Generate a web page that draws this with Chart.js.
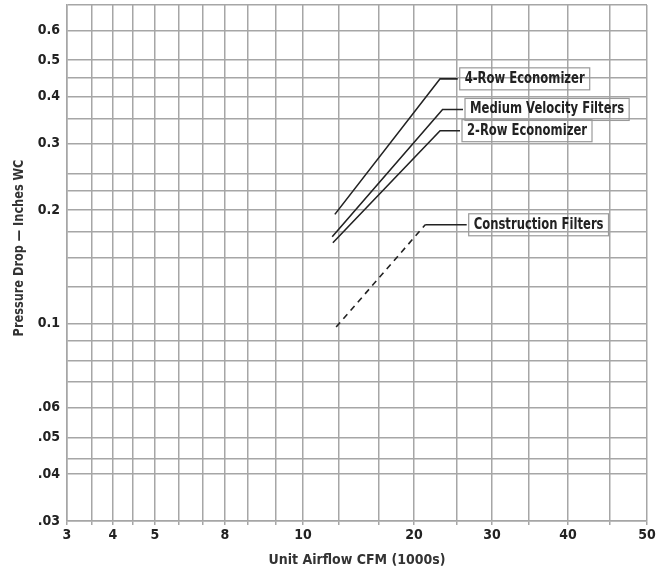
<!DOCTYPE html>
<html>
<head>
<meta charset="utf-8">
<script src="https://cdn.jsdelivr.net/npm/chart.js@4.4.0/dist/chart.umd.min.js"></script>
<style>
  html, body { margin: 0; padding: 0; background: #fff; }
  #wrap { width: 664px; height: 573px; position: relative; }
</style>
</head>
<body>
<div id="wrap"><canvas id="chart"></canvas></div>
<script>
// pressure drop curves
const seriesNames = ["4-Row Economizer", "Medium Velocity Filters", "2-Row Economizer", "Construction Filters"];
const cfmStart = [12.2, 12.0, 12.05, 12.3];
const cfmEnd = [22.9, 23.2, 22.9, 21.2];
const dropStart = [0.195, 0.170, 0.164, 0.098];
const dropEnd = [0.446, 0.370, 0.325, 0.183];
const calloutCfm = [25.1, 25.8, 25.4, 26.3];   // where the leader line meets the label box
const dashedSeries = [false, false, false, true];

// axis grid + labels
const xGrid = [3, 3.5, 4, 4.45, 5, 5.85, 6.9, 8, 8.55, 9.25, 10, 12.5, 16, 20, 25, 30, 34.5, 40, 45, 50];
const xTickValues = [3, 4, 5, 8, 10, 20, 30, 40, 50];
const xTickLabels = ["3", "4", "5", "8", "10", "20", "30", "40", "50"];
const yGrid = [0.03, 0.04, 0.044, 0.05, 0.06, 0.07, 0.08, 0.09, 0.1, 0.125, 0.15, 0.175, 0.2, 0.225, 0.25, 0.3, 0.35, 0.4, 0.45, 0.5, 0.6, 0.7];
const yTickValues = [0.03, 0.04, 0.05, 0.06, 0.1, 0.2, 0.3, 0.4, 0.5, 0.6];
const yTickLabels = [".03", ".04", ".05", ".06", "0.1", "0.2", "0.3", "0.4", "0.5", "0.6"];

const FONT = '"Liberation Sans Narrow", "DejaVu Sans Condensed", "Arial Narrow", sans-serif';
const GRID = "#a6a6a6";
const INK = "#222";

// the printed x axis is not a true log axis, so it gets a piecewise-log scale
// (anchor values and where they sit along the axis, 0..1)
const warpValues = [3, 4, 5, 8, 10, 20, 30, 40, 50];
const warpFrac = [0, 0.0793, 0.1517, 0.2724, 0.4069, 0.5983, 0.7328, 0.8638, 1];

function toFrac(v) {
  const n = warpValues.length;
  let i = 0;
  while (i < n - 2 && v > warpValues[i + 1]) i++;
  const a = Math.log(warpValues[i]), b = Math.log(warpValues[i + 1]);
  const t = (Math.log(v) - a) / (b - a);
  return warpFrac[i] + t * (warpFrac[i + 1] - warpFrac[i]);
}
function fromFrac(f) {
  const n = warpValues.length;
  let i = 0;
  while (i < n - 2 && f > warpFrac[i + 1]) i++;
  const t = (f - warpFrac[i]) / (warpFrac[i + 1] - warpFrac[i]);
  const a = Math.log(warpValues[i]), b = Math.log(warpValues[i + 1]);
  return Math.exp(a + t * (b - a));
}

class WarpScale extends Chart.LinearScale {
  getPixelForValue(value) {
    if (value === null || value === undefined || isNaN(value)) return NaN;
    return this.getPixelForDecimal(toFrac(value));
  }
  getValueForPixel(pixel) {
    return fromFrac(this.getDecimalForPixel(pixel));
  }
}
WarpScale.id = "warp";
WarpScale.defaults = Chart.LinearScale.defaults;
Chart.register(WarpScale);

function lookup(values, labels, v) {
  const i = values.findIndex(t => Math.abs(t - v) < 1e-9);
  return i >= 0 ? labels[i] : "";
}

const datasets = seriesNames.map((name, i) => ({
  label: name,
  data: [
    { x: cfmStart[i], y: dropStart[i] },
    { x: cfmEnd[i], y: dropEnd[i] },
    { x: calloutCfm[i], y: dropEnd[i] }
  ],
  borderColor: INK,
  borderWidth: 1.6,
  pointRadius: 0,
  fill: false,
  tension: 0,
  segment: dashedSeries[i] ? { borderDash: c => c.p0DataIndex === 0 ? [6, 5] : [] } : undefined
}));

// narrow bold text: squeeze a regular face sideways
function narrowText(ctx, text, x, y, size, squeeze) {
  ctx.save();
  ctx.translate(x, y);
  ctx.scale(squeeze, 1);
  ctx.font = "bold " + size + "px " + FONT;
  ctx.fillText(text, 0, 0);
  ctx.restore();
}

// label boxes at the end of each leader line
const calloutPlugin = {
  id: "callouts",
  afterDatasetsDraw(chart) {
    const ctx = chart.ctx;
    const squeeze = 0.86;
    ctx.save();
    ctx.font = "bold 15px " + FONT;
    ctx.textBaseline = "middle";
    chart.data.datasets.forEach((ds, i) => {
      const pts = chart.getDatasetMeta(i).data;
      const end = pts[pts.length - 1];
      const w = ctx.measureText(ds.label).width * squeeze + 10;
      const left = end.x + 2;
      ctx.strokeStyle = "#9a9a9a";
      ctx.lineWidth = 1.2;
      ctx.strokeRect(left, end.y - 11, w, 22);
      ctx.fillStyle = INK;
      narrowText(ctx, ds.label, left + 5, end.y, 15, squeeze);
    });
    ctx.restore();
  }
};

// y axis title sits a little above the middle in the original
const yTitlePlugin = {
  id: "yTitle",
  afterDraw(chart) {
    const ctx = chart.ctx;
    ctx.save();
    ctx.translate(19, 248);
    ctx.rotate(-Math.PI / 2);
    ctx.fillStyle = "#333";
    ctx.textAlign = "center";
    ctx.textBaseline = "middle";
    narrowText(ctx, "Pressure Drop \u2014 Inches WC", 0, 0, 14, 0.9);
    ctx.restore();
  }
};

new Chart(document.getElementById("chart"), {
  type: "line",
  data: { datasets },
  options: {
    responsive: true,
    maintainAspectRatio: false,
    animation: false,
    layout: { padding: { top: 5, right: 17, left: 0, bottom: 0 } },
    plugins: { legend: { display: false }, tooltip: { enabled: false } },
    scales: {
      x: {
        type: "warp",
        min: 3,
        max: 50,
        afterBuildTicks: s => { s.ticks = xGrid.map(v => ({ value: v })); },
        afterFit: s => { s.height = 52; s.paddingLeft = 0; s.paddingRight = 0; },
        grid: { color: GRID, lineWidth: 1.5, drawTicks: true, tickLength: 4, tickColor: GRID },
        border: { color: GRID, width: 1.5 },
        ticks: {
          autoSkip: false,
          maxRotation: 0,
          padding: 2,
          color: INK,
          font: { family: FONT, size: 14, weight: "bold" },
          callback: v => lookup(xTickValues, xTickLabels, v)
        },
        title: {
          display: true,
          text: "Unit Airflow CFM (1000s)",
          color: "#333",
          font: { family: FONT, size: 14, weight: "bold" },
          padding: { top: 0, bottom: 4 }
        }
      },
      y: {
        type: "logarithmic",
        min: 0.03,
        max: 0.7,
        afterBuildTicks: s => { s.ticks = yGrid.map(v => ({ value: v })); },
        afterFit: s => { s.width = 67; s.paddingTop = 0; s.paddingBottom = 0; },
        grid: { color: GRID, lineWidth: 1.5, drawTicks: false },
        border: { color: GRID, width: 1.5 },
        ticks: {
          autoSkip: false,
          padding: 7,
          color: INK,
          font: { family: FONT, size: 14, weight: "bold" },
          callback: v => lookup(yTickValues, yTickLabels, v)
        }
      }
    }
  },
  plugins: [calloutPlugin, yTitlePlugin]
});
</script>
</body>
</html>
